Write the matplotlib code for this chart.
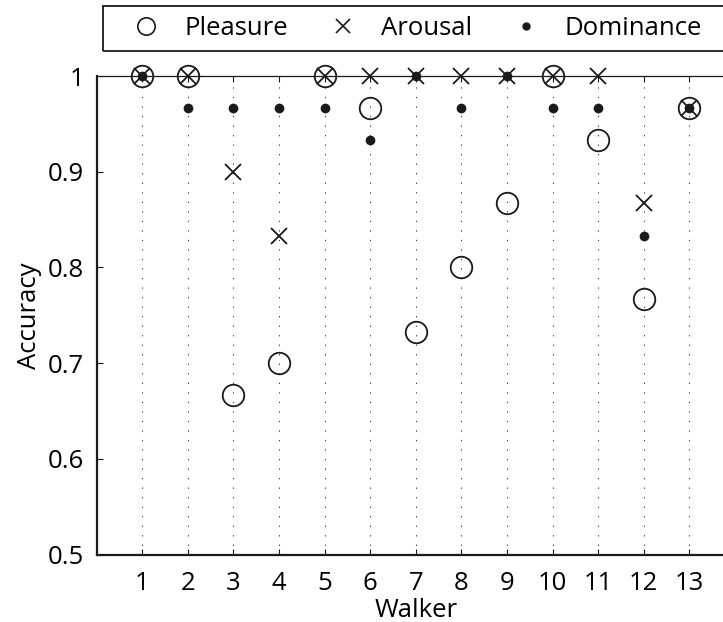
import matplotlib
matplotlib.use("Agg")
import matplotlib.pyplot as plt
from matplotlib.lines import Line2D
from matplotlib.patches import Rectangle

plt.rcParams['font.family'] = ['Open Sans', 'DejaVu Sans']

walkers = list(range(1, 14))
pleasure = [1.0, 1.0, 0.667, 0.700, 1.0, 0.967, 0.733, 0.800, 0.867, 1.0, 0.933, 0.767, 0.967]
arousal = [1.0, 1.0, 0.900, 0.833, 1.0, 1.0, 1.0, 1.0, 1.0, 1.0, 1.0, 0.867, 0.967]
dominance = [1.0, 0.967, 0.967, 0.967, 0.967, 0.933, 1.0, 0.967, 1.0, 0.967, 0.967, 0.833, 0.967]
yticks = [0.5, 0.6, 0.7, 0.8, 0.9, 1.0]
ytick_labels = ['0.5', '0.6', '0.7', '0.8', '0.9', '1']
series_names = ['Pleasure', 'Arousal', 'Dominance']

W, H = 723, 622
fig = plt.figure(figsize=(W / 100, H / 100), dpi=100)
left_px, right_px, top_px, bottom_px = 96.7, 735.0, 76.0, 554.7
ax = fig.add_axes([left_px / W, 1 - bottom_px / H,
                   (right_px - left_px) / W, (bottom_px - top_px) / H])

ink = '#1a1a1a'
fs = 18.5

# vertical dotted guides at each walker
for x in walkers:
    ax.axvline(x, color='#333333', lw=0.7, ls=(0, (1.3, 8.5)), zorder=1)

ax.plot(walkers, pleasure, ls='none', marker='o', ms=15.5, mfc='none',
        mec=ink, mew=1.3, clip_on=False, zorder=5)
ax.plot(walkers, arousal, ls='none', marker='x', ms=11.5, mec=ink,
        mew=1.3, clip_on=False, zorder=6)
ax.plot(walkers, dominance, ls='none', marker='o', ms=7, mfc=ink,
        mec=ink, mew=0, clip_on=False, zorder=7)

ax.set_xlim(0, 14)
ax.set_ylim(0.5, 1.0)
ax.set_xticks(walkers)
ax.set_xticklabels([str(w) for w in walkers])
ax.set_yticks(yticks)
ax.set_yticklabels(ytick_labels)
ax.tick_params(axis='both', direction='in', length=4.5, width=0.8,
               color=ink, labelsize=fs, labelcolor='black')
ax.tick_params(axis='x', top=True, pad=12)
ax.tick_params(axis='y', pad=9)

for side in ['left', 'bottom']:
    ax.spines[side].set_linewidth(1.6)
    ax.spines[side].set_color(ink)
ax.spines['top'].set_linewidth(0.9)
ax.spines['top'].set_color(ink)
ax.spines['right'].set_visible(False)

ax.set_xlabel('Walker', fontsize=fs, labelpad=1.5)
ax.set_ylabel('Accuracy', fontsize=fs, labelpad=4)

# legend strip across the top
handles = [
    Line2D([], [], ls='none', marker='o', ms=12.5, mfc='none', mec=ink, mew=1.2),
    Line2D([], [], ls='none', marker='x', ms=10, mec=ink, mew=1.2),
    Line2D([], [], ls='none', marker='o', ms=6, mfc=ink, mec=ink, mew=0),
]
leg_l, leg_r, leg_t, leg_b = 103.0, 760.0, 6.0, 51.0
fig.add_artist(Rectangle((leg_l / W, 1 - leg_b / H), (leg_r - leg_l) / W,
                         (leg_b - leg_t) / H, transform=fig.transFigure,
                         fill=False, edgecolor=ink, lw=1.3))
leg = fig.legend(handles, series_names, ncol=3, loc='center left',
                 bbox_to_anchor=(131 / W, 1 - 28.5 / H), fontsize=fs,
                 frameon=False, borderaxespad=0, borderpad=0,
                 handlelength=1.2, handletextpad=0.9, columnspacing=1.5)

fig.savefig('out.png', dpi=100)
